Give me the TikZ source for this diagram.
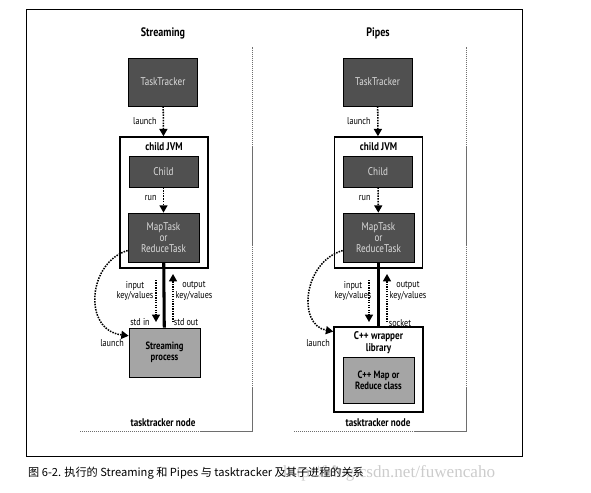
\documentclass[tikz,border=0pt]{standalone}
\usepackage{fontspec}
\setmainfont{PT Sans}
\newfontfamily\narrowfont[FakeStretch=0.82]{PT Sans}
\newfontfamily\cjkfont{Noto Sans CJK SC}
\newfontfamily\markfont{Liberation Serif}
\usetikzlibrary{arrows.meta,positioning}
\definecolor{boxdark}{RGB}{80,80,80}
\definecolor{boxlight}{RGB}{165,165,165}
\definecolor{boxtxt}{RGB}{220,220,220}
\definecolor{regiongray}{RGB}{110,110,110}
\tikzset{
  darkbox/.style={draw=black, fill=boxdark, text=boxtxt, line width=0.6pt,
                  minimum width=2.07cm, align=center, font=\narrowfont\fontsize{9.5}{9.5}\selectfont},
  lightbox/.style={draw=black, fill=boxlight, line width=0.6pt, minimum width=2.13cm,
                   align=center, font=\narrowfont\bfseries\fontsize{9}{9.5}\selectfont},
  jvmbox/.style={draw=black, fill=white, line width=1.3pt},
  ttl/.style={font=\narrowfont\bfseries\fontsize{10.5}{11}\selectfont},
  lbl/.style={font=\narrowfont\fontsize{8.5}{9}\selectfont, align=center, inner sep=1pt},
  blbl/.style={font=\narrowfont\bfseries\fontsize{9.5}{10}\selectfont, align=center, inner sep=1pt},
  lnch/.style={-{Triangle[length=2.2mm, width=2.4mm]}, line width=1.3pt, densely dotted},
  dat/.style={-{Triangle[length=2.2mm, width=2.4mm]}, line width=1.1pt, densely dotted},
  pipe/.style={line width=2.6pt},
  region/.style={regiongray, line width=0.8pt, dash pattern=on 1.2pt off 0.5pt},
}

\begin{document}
\begin{tikzpicture}[x=0.03cm, y=-0.03cm]
    \useasboundingbox (0,0) rectangle (591,492);
    \draw[line width=0.6pt] (26,9) rectangle (522,456);
    % Streaming
    \draw[region] (80,431) -- (252,431) -- (252,47);
    \node[ttl] (stitle) at (163,33) {Streaming};
    \node[darkbox, minimum height=1.44cm] (tt1) at (163,82) {TaskTracker};
    \node[jvmbox, minimum width=2.64cm, minimum height=3.93cm] (jvm1) at (164,202.5) {};
    \node[blbl] (jvmlbl1) at (164,147) {child JVM};
    \node[darkbox, minimum height=0.93cm] (child1) at (163.5,171.5) {Child};
    \node[darkbox, minimum width=2.13cm, minimum height=1.47cm] (map1) at (163.5,237.5) {MapTask\\or\\ReduceTask};
    \node[lightbox, minimum height=1.47cm] (sp1) at (164.5,352.5) {Streaming\\process};
    \draw[lnch] (tt1) -- (jvm1);
    \draw[lnch] (child1) -- (map1);
    \draw[pipe] (map1) -- (sp1);
    \coordinate (in1a) at (156,280); \coordinate (in1b) at (156,322);
    \coordinate (out1a) at (173,322); \coordinate (out1b) at (173,274);
    \draw[dat] (in1a) -- (in1b);
    \draw[dat] (out1a) -- (out1b);
    \draw[lnch] (map1.200) .. controls (88,262) and (82,330) .. (sp1.155);
    \node[lbl, anchor=east] (lt1) at (158,121) {launch};
    \node[lbl, anchor=east] (run1) at (158,198) {run};
    \node[lbl] (inl1) at (135,291) {input\\key/values};
    \node[lbl] (outl1) at (194,291) {output\\key/values};
    \node[lbl] (stdin1) at (140,322) {std in};
    \node[lbl] (stdout1) at (186,322) {std out};
    \node[lbl] (lb1) at (112,343) {launch};
    \node[blbl] (tn1) at (163,423) {tasktracker node};
    % Pipes
    \draw[region] (294,431) -- (466,431) -- (466,47);
    \node[ttl] (ptitle) at (378,33) {Pipes};
    \node[darkbox, minimum height=1.44cm] (tt2) at (377.5,82) {TaskTracker};
    \node[jvmbox, minimum width=2.64cm, minimum height=3.93cm] (jvm2) at (378.5,202.5) {};
    \node[blbl] (jvmlbl2) at (378.5,147) {child JVM};
    \node[darkbox, minimum height=0.93cm] (child2) at (378,171.5) {Child};
    \node[darkbox, minimum width=2.13cm, minimum height=1.47cm] (map2) at (378.5,237.5) {MapTask\\or\\ReduceTask};
    \node[jvmbox, minimum width=2.67cm, minimum height=2.55cm] (cpp2) at (378.5,369.5) {};
    \node[blbl] (cpplbl2) at (378.5,343) {C++ wrapper\\library};
    \node[lightbox, minimum height=1.38cm] (cls2) at (378.5,380) {C++ Map or\\Reduce class};
    \draw[lnch] (tt2) -- (jvm2);
    \draw[lnch] (child2) -- (map2);
    \draw[pipe] (map2) -- (cpp2);
    \coordinate (in2a) at (369,280); \coordinate (in2b) at (369,322);
    \coordinate (out2a) at (387,322); \coordinate (out2b) at (387,274);
    \draw[dat] (in2a) -- (in2b);
    \draw[dat] (out2a) -- (out2b);
    \draw[lnch] (map2.200) .. controls (303,262) and (297,325) .. (cpp2.140);
    \node[lbl, anchor=east] (lt2) at (372,121) {launch};
    \node[lbl, anchor=east] (run2) at (372,198) {run};
    \node[lbl] (inl2) at (353,291) {input\\key/values};
    \node[lbl] (outl2) at (408,291) {output\\key/values};
    \node[lbl] (sock2) at (400,323) {socket};
    \node[lbl] (lb2) at (318,343) {launch};
    \node[blbl] (tn2) at (378,423) {tasktracker node};
    % caption
    \node[anchor=west, text=gray!40, font=\markfont\fontsize{14.6}{15}\selectfont, inner sep=0pt] (mark) at (283,473) {http://blog.csdn.net/fuwencaho};
    \node[anchor=west, font=\cjkfont\fontsize{9.5}{10}\selectfont, inner sep=0pt] (cap) at (28,473) {图 6-2. 执行的 Streaming 和 Pipes 与 tasktracker 及其子进程的关系};
\end{tikzpicture}
\end{document}
